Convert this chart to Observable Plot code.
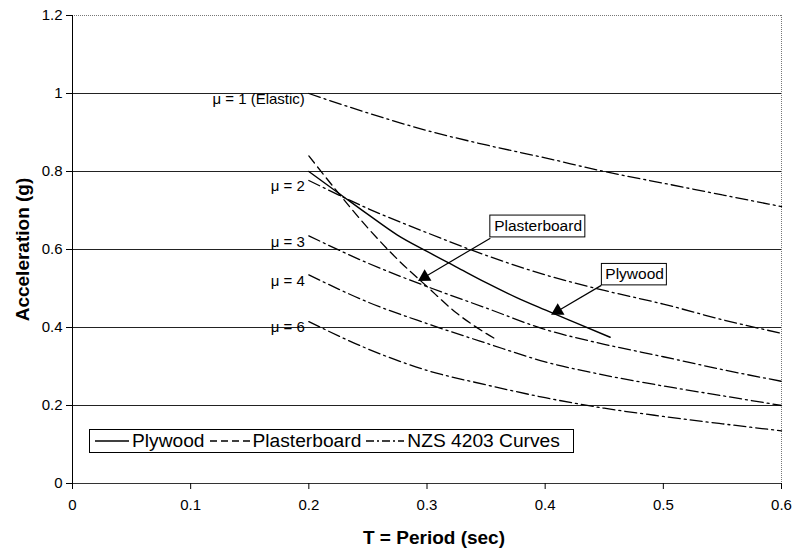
<!DOCTYPE html>
<html>
<head>
<meta charset="utf-8">
<script src="https://cdn.jsdelivr.net/npm/d3@7"></script>
<script src="https://cdn.jsdelivr.net/npm/@observablehq/plot@0.6"></script>
<style>
  html, body { margin: 0; padding: 0; background: #fff; }
  #wrap { position: relative; width: 797px; height: 553px; font-family: "Liberation Sans", Arial, sans-serif; }
  #wrap svg [aria-label="x-axis label"] text, #wrap svg [aria-label="y-axis label"] text { font-weight: bold; font-size: 19px; }
  #legend { position: absolute; left: 89px; top: 429px; width: 483px; height: 22px; border: 1px solid #000; background: #fff;
            display: flex; align-items: center; font-size: 19.2px; white-space: nowrap; }
  #legend svg { margin: 0 3px 0 5px; }
</style>
</head>
<body>
<div id="wrap"></div>
<script>
// ---- data ----
const xTicks = [0, 0.1, 0.2, 0.3, 0.4, 0.5, 0.6];
const yTicks = [0, 0.2, 0.4, 0.6, 0.8, 1.0, 1.2];
const gridValues = [0.2, 0.4, 0.6, 0.8, 1.0];

// NZS 4203 curves
const nzsPeriods = [0.2, 0.25, 0.3, 0.35, 0.4, 0.45, 0.5, 0.55, 0.6];
const mu1 = [1.0, 0.95, 0.905, 0.868, 0.835, 0.80, 0.77, 0.74, 0.71];
const mu2 = [0.777, 0.705, 0.643, 0.585, 0.535, 0.495, 0.46, 0.42, 0.385];
const mu3 = [0.635, 0.565, 0.505, 0.45, 0.395, 0.357, 0.325, 0.292, 0.262];
const mu4 = [0.535, 0.465, 0.41, 0.36, 0.312, 0.278, 0.25, 0.225, 0.2];
const mu6 = [0.415, 0.345, 0.29, 0.253, 0.22, 0.193, 0.172, 0.153, 0.135];
const muLabels = ["\u03bc = 1 (Elastic)", "\u03bc = 2", "\u03bc = 3", "\u03bc = 4", "\u03bc = 6"];

// Plywood
const plywoodT = [0.2, 0.225, 0.25, 0.275, 0.3, 0.325, 0.35, 0.375, 0.4, 0.425, 0.455];
const plywoodA = [0.80, 0.745, 0.69, 0.637, 0.595, 0.555, 0.515, 0.478, 0.445, 0.413, 0.375];

// Plasterboard
const plasterT = [0.2, 0.225, 0.25, 0.275, 0.3, 0.325, 0.35, 0.36];
const plasterA = [0.84, 0.745, 0.655, 0.575, 0.505, 0.437, 0.385, 0.367];

// callouts
const calloutLabels = ["Plasterboard", "Plywood"];
const calloutX = [0.394, 0.4757];
const calloutY = [0.659, 0.536];
const calloutBoxX1 = [0.3536, 0.448], calloutBoxX2 = [0.434, 0.503];
const calloutBoxY1 = [0.631, 0.508], calloutBoxY2 = [0.687, 0.563];
const arrowFromX = [0.3536, 0.4475], arrowFromY = [0.629, 0.508];
const arrowToX = [0.2944, 0.407], arrowToY = [0.523, 0.436];

const legendLabels = ["Plywood", "Plasterboard", "NZS 4203 Curves"];

// ---- build tables ----
const nzsSeries = [mu1, mu2, mu3, mu4, mu6];
const nzsData = nzsSeries.flatMap((vals, i) => vals.map((a, j) => ({curve: muLabels[i], T: nzsPeriods[j], A: a})));
const muLabelData = nzsSeries.map((vals, i) => ({label: muLabels[i], T: nzsPeriods[0], A: vals[0]}));
const plywood = plywoodT.map((t, i) => ({T: t, A: plywoodA[i]}));
const plaster = plasterT.map((t, i) => ({T: t, A: plasterA[i]}));

const W = 797, H = 553, ML = 72, MR = 16, MT = 15, MB = 70;
const kx = (W - ML - MR) / 0.6, ky = (H - MT - MB) / 1.2; // px per unit
const callouts = calloutLabels.map((l, i) => {
  const dxp = (arrowToX[i] - arrowFromX[i]) * kx, dyp = -(arrowToY[i] - arrowFromY[i]) * ky;
  const len = Math.hypot(dxp, dyp);
  const back = 5; // px: place triangle centroid behind tip
  return {
    label: l, x: calloutX[i], y: calloutY[i],
    x1: calloutBoxX1[i], x2: calloutBoxX2[i], y1: calloutBoxY1[i], y2: calloutBoxY2[i],
    ax1: arrowFromX[i], ay1: arrowFromY[i], ax2: arrowToX[i], ay2: arrowToY[i],
    hx: arrowToX[i] - (dxp / len) * back / kx, hy: arrowToY[i] + (dyp / len) * back / ky,
    rot: Math.atan2(dxp, -dyp) * 180 / Math.PI
  };
});

const fmt = d => String(+d.toFixed(1));
const dashNZS = "12,4,2,4";
const dashPlaster = "9,5";

const chart = Plot.plot({
  width: W, height: H,
  marginLeft: ML, marginRight: MR, marginTop: MT, marginBottom: MB,
  style: {fontFamily: "'Liberation Sans', Arial, sans-serif", fontSize: "15px", color: "#000", background: "#fff"},
  x: {domain: [0, 0.6]},
  y: {domain: [0, 1.2]},
  marks: [
    Plot.ruleY(gridValues, {stroke: "#222", strokeWidth: 1}),
    Plot.ruleY([1.2], {stroke: "#777", strokeDasharray: "1,1"}),
    Plot.ruleX([0.6], {stroke: "#777", strokeDasharray: "1,1"}),
    Plot.ruleY([0], {stroke: "#333"}),
    Plot.ruleX([0], {stroke: "#000"}),
    Plot.axisX({ticks: xTicks, tickFormat: fmt, tickSize: 6, tickPadding: 10, label: "T = Period (sec)", labelAnchor: "center", labelArrow: "none", labelOffset: 60}),
    Plot.axisY({ticks: yTicks, tickFormat: fmt, tickSize: 6, tickPadding: 4, label: "Acceleration (g)", labelAnchor: "center", labelArrow: "none", labelOffset: 57}),
    Plot.line(nzsData, {x: "T", y: "A", z: "curve", stroke: "#000", strokeWidth: 1.3, strokeDasharray: dashNZS, curve: "monotone-x"}),
    Plot.line(plywood, {x: "T", y: "A", stroke: "#000", strokeWidth: 1.4, curve: "monotone-x"}),
    Plot.line(plaster, {x: "T", y: "A", stroke: "#000", strokeWidth: 1.3, strokeDasharray: dashPlaster, curve: "monotone-x"}),
    Plot.text(muLabelData, {x: "T", y: "A", text: "label", textAnchor: "end", dx: -4, dy: 6, fontSize: 15}),
    Plot.link(callouts, {x1: "ax1", y1: "ay1", x2: "hx", y2: "hy", stroke: "#000", strokeWidth: 1.2}),
    Plot.dot(callouts, {x: "hx", y: "hy", symbol: "triangle", r: 5, rotate: "rot", fill: "#000", stroke: "none"}),
    Plot.rect(callouts, {x1: "x1", x2: "x2", y1: "y1", y2: "y2", fill: "#fff", stroke: "#000", strokeWidth: 1}),
    Plot.text(callouts, {x: "x", y: "y", text: "label", fontSize: 15.5})
  ]
});

// nudge x-axis title slightly right as in the reference
d3.select(chart).select('[aria-label="x-axis label"] text').attr("dx", 7);

const wrap = document.getElementById("wrap");
wrap.appendChild(chart);

// legend (overlay inside plot area)
const legend = document.createElement("div");
legend.id = "legend";
const samples = ["", "7,4", "8,3,2,3"];
const sampleW = [34, 40, 38];
legendLabels.forEach((l, i) => {
  const s = `<svg width="${sampleW[i]}" height="10"><line x1="0" y1="5" x2="${sampleW[i]}" y2="5" stroke="#000" stroke-width="1.3" ${samples[i] ? `stroke-dasharray="${samples[i]}"` : ""}/></svg>`;
  legend.insertAdjacentHTML("beforeend", s + `<span>${l}</span>`);
});
wrap.appendChild(legend);
</script>
</body>
</html>
